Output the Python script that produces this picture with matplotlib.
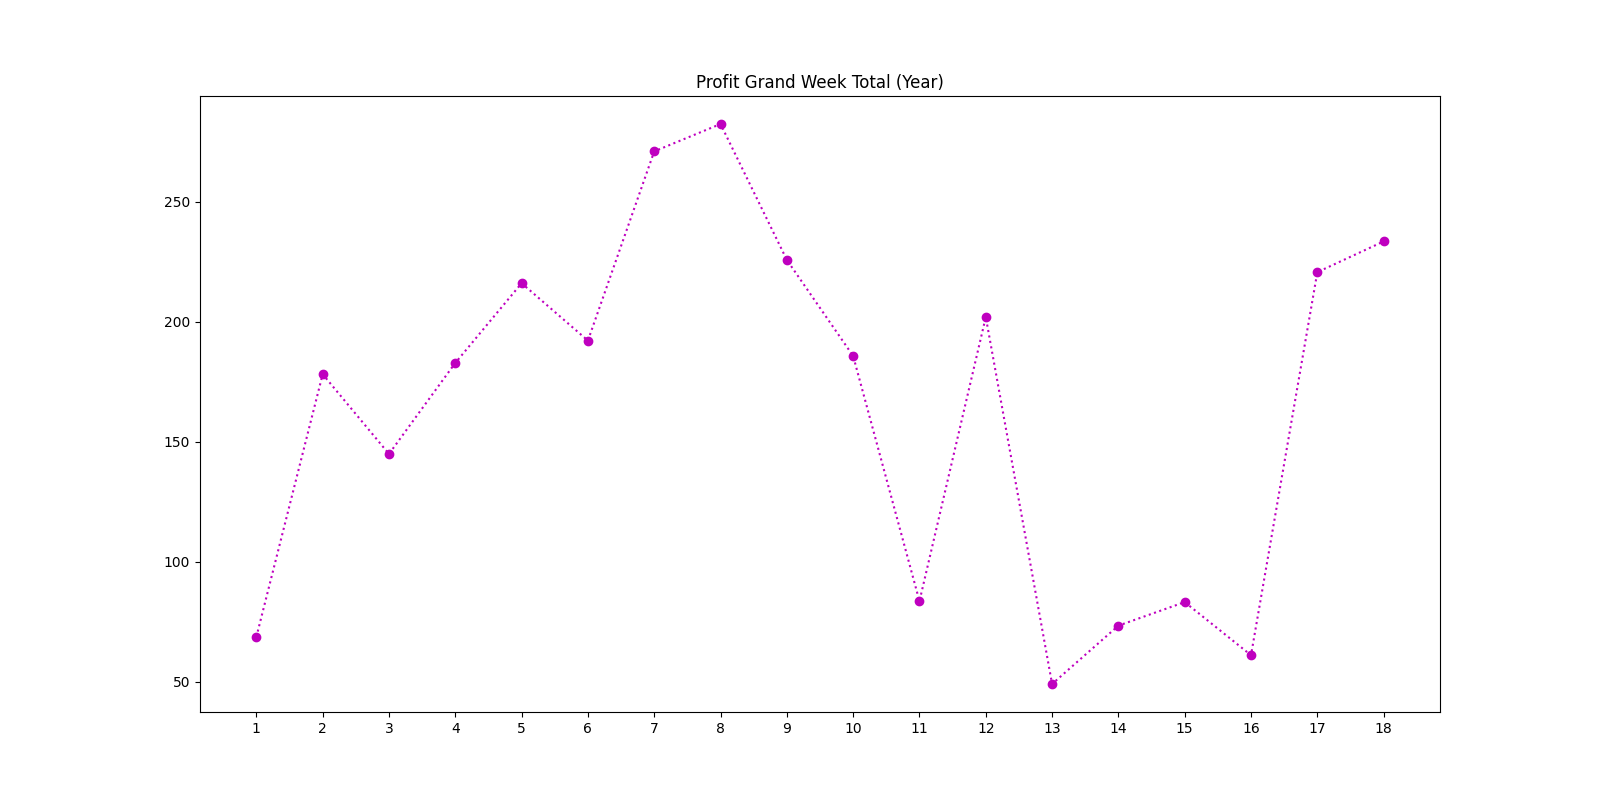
import matplotlib

matplotlib.use("Agg")
import matplotlib.pyplot as plt

weeks = list(range(1, 19))
profit = [68.7, 178.1, 144.9, 182.8, 216.0, 192.1, 270.9, 282.3, 225.7,
          185.7, 83.6, 201.9, 49.1, 73.4, 83.2, 61.1, 220.6, 233.4]

fig, ax = plt.subplots(figsize=(16, 8), dpi=100)
ax.plot(weeks, profit, color="m", marker="o", linestyle=":")
ax.set_xticks(weeks)
ax.set_title("Profit Grand Week Total (Year)")
fig.savefig("out.png", dpi=100)
